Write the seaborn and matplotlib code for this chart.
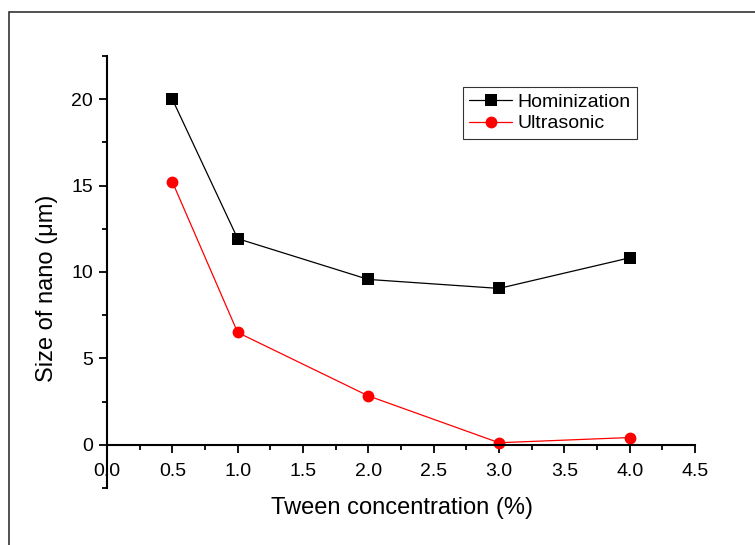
import matplotlib
matplotlib.use("Agg")
import matplotlib.pyplot as plt
import seaborn as sns
import pandas as pd
from matplotlib.patches import Rectangle
from matplotlib.ticker import MultipleLocator

x_conc = [0.5, 1.0, 2.0, 3.0, 4.0]
hominization = [20.0, 11.93, 9.57, 9.05, 10.82]
ultrasonic = [15.22, 6.5, 2.83, 0.12, 0.42]
series_names = ["Hominization", "Ultrasonic"]

df = pd.DataFrame({
    "x": x_conc * 2,
    "y": hominization + ultrasonic,
    "series": [series_names[0]] * len(x_conc) + [series_names[1]] * len(x_conc),
})

sns.set_style("ticks")
plt.rcParams["font.family"] = ["Liberation Sans", "DejaVu Sans"]
plt.rcParams["text.color"] = "black"
plt.rcParams["axes.labelcolor"] = "black"
plt.rcParams["xtick.color"] = "black"
plt.rcParams["ytick.color"] = "black"

fig = plt.figure(figsize=(7.55, 5.45), dpi=100)
ax = fig.add_axes([107 / 755, 1 - 488 / 545, 588 / 755, 432 / 545])

sns.lineplot(data=df, x="x", y="y", hue="series", style="series",
             palette={"Hominization": "black", "Ultrasonic": "#ff0000"},
             markers={"Hominization": "s", "Ultrasonic": "o"},
             dashes=False, markersize=8.5, linewidth=0.9,
             markeredgewidth=0, ax=ax)

ax.set_xlim(0, 4.5)
ax.set_ylim(-2.5, 22.5)
ax.xaxis.set_major_locator(MultipleLocator(0.5))
ax.xaxis.set_minor_locator(MultipleLocator(0.25))
ax.yaxis.set_major_locator(MultipleLocator(5))
ax.yaxis.set_minor_locator(MultipleLocator(2.5))
ax.set_xticklabels([f"{v:.1f}" for v in ax.get_xticks()])

for s in ["top", "right"]:
    ax.spines[s].set_visible(False)
ax.spines["bottom"].set_position(("data", 0))
for s in ["left", "bottom"]:
    ax.spines[s].set_linewidth(1.5)
    ax.spines[s].set_color("black")
ax.tick_params(which="major", length=6, width=1.3, labelsize=14, direction="out")
ax.tick_params(which="minor", length=3.5, width=1.3, direction="out")
ax.tick_params(axis="x", pad=7)
ax.tick_params(axis="y", pad=4)

ax.set_xlabel("Tween concentration (%)", fontsize=17)
ax.set_ylabel("Size of nano (μm)", fontsize=17)
ax.yaxis.set_label_coords((58 - 107) / 588, (488 - 288) / 432)
ax.xaxis.set_label_coords((402 - 107) / 588, (488 - 497) / 432)

leg = ax.legend(loc="upper left", bbox_to_anchor=((463 - 107) / 588, (488 - 87) / 432),
                borderaxespad=0, fontsize=14, frameon=True, fancybox=False,
                handlelength=2.2, handletextpad=0.3, borderpad=0.32, labelspacing=0.2)
leg.get_frame().set_edgecolor("black")
leg.get_frame().set_linewidth(0.8)

fig.patches.append(Rectangle((9 / 755, -0.1), 1.2, 1 - 12 / 545 + 0.1,
                             transform=fig.transFigure, fill=False,
                             edgecolor="#333333", linewidth=1.2))

fig.savefig("out.png", dpi=100)
